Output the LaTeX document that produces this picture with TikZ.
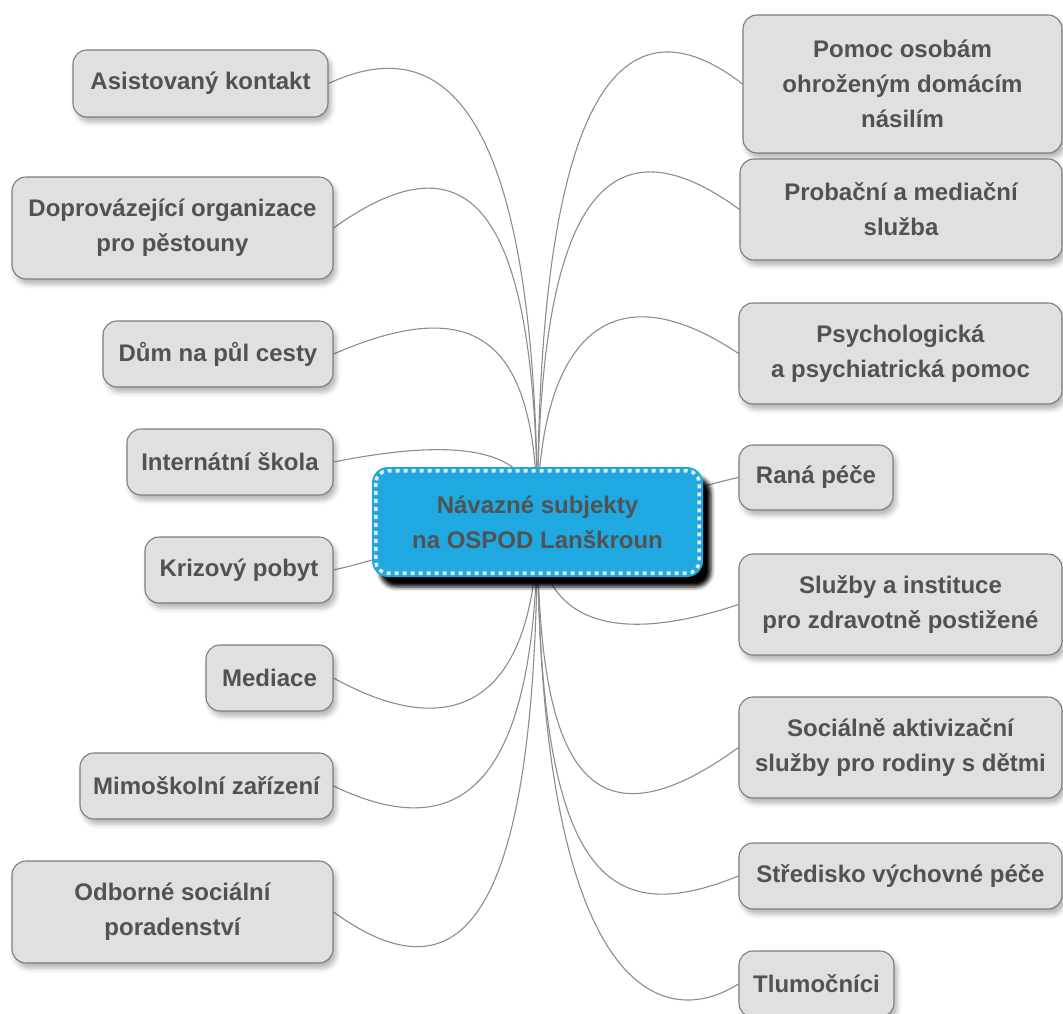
\documentclass[tikz,border=0pt]{standalone}
\usepackage{fontspec}
\setmainfont{Liberation Sans}
\usetikzlibrary{shadows.blur}
\definecolor{boxfill}{RGB}{224,224,224}
\definecolor{boxdraw}{RGB}{125,125,125}
\definecolor{txt}{RGB}{82,82,82}
\definecolor{cblue}{RGB}{32,168,224}
\definecolor{dashc}{RGB}{232,232,232}
\definecolor{edgec}{RGB}{140,140,140}
\pgfdeclarelayer{bg}
\pgfsetlayers{bg,main}
\tikzset{
  leaf/.style={rectangle, rounded corners=14pt, fill=boxfill, draw=boxdraw,
    line width=1.1pt, inner sep=0pt, align=center, text=txt,
    font=\fontsize{24}{35}\selectfont\bfseries,
    blur shadow={shadow xshift=3pt, shadow yshift=-5pt, shadow blur radius=5pt, shadow opacity=30}},
  hub/.style={rectangle, rounded corners=16pt, fill=cblue, inner sep=0pt,
    align=center, text=txt, font=\fontsize{24}{35}\selectfont\bfseries,
    minimum width=331pt, minimum height=110pt,
    blur shadow={shadow xshift=8pt, shadow yshift=-10pt, shadow blur radius=4pt, shadow opacity=100}},
  link/.style={draw=edgec, line width=1.1pt},
  rim/.style={draw=dashc, line width=3.5pt, dash pattern=on 4pt off 4pt, rounded corners=12pt},
}
\begin{document}
\begin{tikzpicture}[x=1pt,y=-1pt]
\useasboundingbox (0,0) rectangle (1063,1014);
% hub
\node[hub] (c) at (537.5,522) {Návazné subjekty\\na OSPOD Lanškroun};
\draw[rim] ([xshift=4pt,yshift=-4pt]c.north west) rectangle ([xshift=-4pt,yshift=4pt]c.south east);
% left
\node[leaf, minimum width=255pt, minimum height=67pt] (l1) at (200.5,83.5) {Asistovaný kontakt};
\node[leaf, minimum width=321pt, minimum height=102pt] (l2) at (172.5,228) {Doprovázející organizace\\pro pěstouny};
\node[leaf, minimum width=230pt, minimum height=66pt] (l3) at (218,354) {Dům na půl cesty};
\node[leaf, minimum width=206pt, minimum height=66pt] (l4) at (230,462) {Internátní škola};
\node[leaf, minimum width=188pt, minimum height=66pt] (l5) at (239,570) {Krizový pobyt};
\node[leaf, minimum width=127pt, minimum height=66pt] (l6) at (269.5,678) {Mediace};
\node[leaf, minimum width=253pt, minimum height=66pt] (l7) at (206.5,786) {Mimoškolní zařízení};
\node[leaf, minimum width=321pt, minimum height=102pt] (l8) at (172.5,912) {Odborné sociální\\poradenství};
% right
\node[leaf, minimum width=319pt, minimum height=138pt] (r1) at (902.5,84) {Pomoc osobám\\ohroženým domácím\\násilím};
\node[leaf, minimum width=322pt, minimum height=101pt] (r2) at (901,209.5) {Probační a mediační\\služba};
\node[leaf, minimum width=323pt, minimum height=101pt] (r3) at (900.5,353.5) {Psychologická\\a psychiatrická pomoc};
\node[leaf, minimum width=154pt, minimum height=65pt] (r4) at (816,477.5) {Raná péče};
\node[leaf, minimum width=323pt, minimum height=101pt] (r5) at (900.5,604.5) {Služby a instituce\\pro zdravotně postižené};
\node[leaf, minimum width=323pt, minimum height=101pt] (r6) at (900.5,747.5) {Sociálně aktivizační\\služby pro rodiny s dětmi};
\node[leaf, minimum width=323pt, minimum height=66pt] (r7) at (900.5,876) {Středisko výchovné péče};
\node[leaf, minimum width=155pt, minimum height=66pt] (r8) at (816.5,984) {Tlumočníci};
% connectors
\begin{pgfonlayer}{bg}
\draw[link] (c.center) .. controls (537,83) and (433,35) .. (l1.east);
\draw[link] (c.center) .. controls (537,227) and (480,123) .. (l2.east);
\draw[link] (c.center) .. controls (537,352) and (488,287) .. (l3.east);
\draw[link] (c.center) .. controls (537,461) and (489,431) .. (l4.east);
\draw[link] (c.center) .. controls (480,522) and (400,555) .. (l5.east);
\draw[link] (c.center) .. controls (537,678) and (473,755) .. (l6.east);
\draw[link] (c.center) .. controls (537,787) and (461,847) .. (l7.east);
\draw[link] (c.center) .. controls (537,913) and (466,1008) .. (l8.east);
\draw[link] (c.center) .. controls (537,83) and (625,-7) .. (r1.west);
\draw[link] (c.center) .. controls (537,209) and (602,109) .. (r2.west);
\draw[link] (c.center) .. controls (537,353) and (600,261) .. (r3.west);
\draw[link] (c.center) .. controls (600,522) and (680,490) .. (r4.west);
\draw[link] (c.center) .. controls (537,607) and (593,653) .. (r5.west);
\draw[link] (c.center) .. controls (537,752) and (579,863) .. (r6.west);
\draw[link] (c.center) .. controls (537,878) and (605,930) .. (r7.west);
\draw[link] (c.center) .. controls (537,985) and (657,1035) .. (r8.west);
\end{pgfonlayer}
\end{tikzpicture}
\end{document}
